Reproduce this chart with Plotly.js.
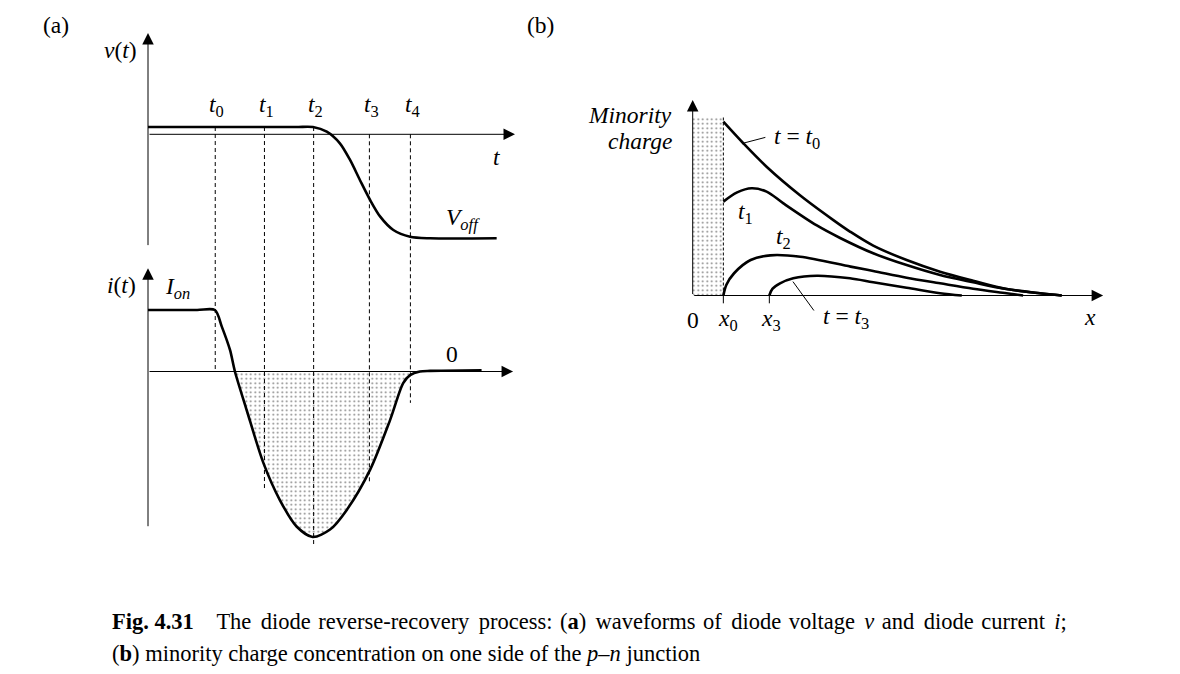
<!DOCTYPE html>
<html><head><meta charset="utf-8">
<script src="https://cdn.plot.ly/plotly-3.0.1.min.js"></script>
<style>html,body{margin:0;padding:0;background:#fff}</style>
</head><body><div id="chart" style="width:1180px;height:674px"></div>
<script>
// ================= DATA =================
// Panel (a): time marks t0..t4 (arbitrary time units)
const tMarks = [2.05, 3.55, 5.05, 6.75, 8.0];
const tMarkLabels = ['<i>t</i><sub>0</sub>', '<i>t</i><sub>1</sub>', '<i>t</i><sub>2</sub>', '<i>t</i><sub>3</sub>', '<i>t</i><sub>4</sub>'];
// diode voltage v(t)
const vTime = [0, 4.5, 5.03, 5.45, 5.85, 6.16, 6.46, 6.77, 7.08, 7.48, 7.99, 8.60, 10.63];
const vVolt = [0.7, 0.7, 0.7, 0.25, -0.87, -2.47, -4.39, -6.31, -7.92, -9.20, -9.85, -10.0, -10.0];
// diode current i(t)
const iTime = [0, 1.5, 2.04, 2.25, 2.50, 2.65, 3.01, 3.52, 4.02, 4.53, 5.02, 5.55, 6.06, 6.77, 7.38, 7.78, 7.99, 8.29, 8.60, 10.17];
const iCurr = [1.0, 1.0, 1.0, 0.73, 0.35, 0.0, -0.63, -1.49, -2.09, -2.52, -2.69, -2.57, -2.25, -1.60, -0.79, -0.19, -0.06, 0.0, 0.01, 0.02];
// guide lines: value where each guide leaves the v-plot and where it ends in the i-plot
const guideFromV = [0.7, 0.7, 0.7, 0, 0];
const guideToI = [0, -1.93, -2.82, -1.80, -0.51];
// axis extents (a)
const vAxisSpan = [-10.8, 9.73];
const tAxisEnd = 11.19;
const iAxisSpan = [-2.54, 1.68];
const iTAxisEnd = 11.13;

// Panel (b): minority charge profiles
const xMarks = [1.0, 2.5]; // x0, x3
const q0x = [1.0, 1.65, 2.41, 3.50, 4.59, 5.13, 5.89, 6.98, 8.07, 9.15, 10.24, 11.33, 12.04];
const q0y = [10.0, 8.76, 7.41, 5.77, 4.34, 3.68, 2.87, 2.04, 1.37, 0.85, 0.37, 0.13, 0];
const q1x = [1.0, 1.45, 1.92, 2.41, 2.96, 4.05, 4.81, 5.89, 6.98, 8.07, 9.15, 10.24, 11.33, 12.04];
const q1y = [5.40, 5.93, 6.17, 5.98, 5.30, 4.03, 3.31, 2.43, 1.75, 1.18, 0.76, 0.37, 0.13, 0];
const q2x = [1.0, 1.10, 1.35, 1.89, 2.53, 3.51, 5.15, 5.89, 6.98, 8.07, 9.15, 10.24, 10.78];
const q2y = [0, 0.62, 1.28, 2.04, 2.31, 2.23, 1.66, 1.41, 1.02, 0.70, 0.39, 0.13, 0];
const q3x = [2.5, 2.6, 2.85, 3.28, 4.05, 5.13, 5.89, 6.98, 8.07, 8.78];
const q3y = [0, 0.38, 0.70, 0.99, 1.14, 0.99, 0.76, 0.45, 0.13, 0];
const storedTop = 10.25;   // height of the stored-charge (dotted) block
const qAxisTop = 11.25;
const xAxisEnd = 13.39;

// ================= GEOMETRY (pixels) =================
const W = 1180, H = 674;
const GA = {p0: 100, p1: 540, o: 148, s: 32.8};      // panel a time axis
const GV = {p0: 25, p1: 255, o: 134.3, s: 10.4};     // voltage
const GI = {p0: 255, p1: 560, o: 371.5, s: 61.5};    // current
const GBX = {p0: 660, p1: 1120, o: 692.7, s: 30.65}; // panel b x
const GBY = {p0: 90, p1: 345, o: 295.5, s: 17.38};   // panel b charge
function xAx(g) { return {domain: [g.p0 / W, g.p1 / W], range: [(g.p0 - g.o) / g.s, (g.p1 - g.o) / g.s], visible: false, fixedrange: true}; }
function yAx(g) { return {domain: [1 - g.p1 / H, 1 - g.p0 / H], range: [(g.o - g.p1) / g.s, (g.o - g.p0) / g.s], visible: false, fixedrange: true}; }
function toPaperY(g, v) { return 1 - (g.o - v * g.s) / H; }

const SERIF = '"Liberation Serif", "Times New Roman", serif';
const BLK = '#000';
const CURVE = {color: BLK, width: 2.6, shape: 'spline', smoothing: 0.8};
const DOTS = {shape: '.', size: 4.5, solidity: 0.14, fgcolor: '#000', bgcolor: 'rgba(0,0,0,0)', fillmode: 'overlay'};

const traces = [];
// current fill (negative lobe)
const negT = [], negI = [];
iTime.forEach((t, k) => { if (iCurr[k] <= 0) { negT.push(t); negI.push(iCurr[k]); } });
traces.push({x: negT, y: negI, xaxis: 'x', yaxis: 'y2', mode: 'lines', line: {width: 0, shape: 'spline', smoothing: 0.8}, fill: 'tozeroy', fillcolor: 'rgba(0,0,0,0)', fillpattern: DOTS, hoverinfo: 'skip'});
// stored charge block panel b
traces.push({x: [0, xMarks[0], xMarks[0], 0, 0], y: [0, 0, storedTop, storedTop, 0], xaxis: 'x2', yaxis: 'y3', mode: 'lines', line: {width: 0}, fill: 'toself', fillcolor: 'rgba(0,0,0,0)', fillpattern: DOTS, hoverinfo: 'skip'});
// curves
traces.push({x: vTime, y: vVolt, xaxis: 'x', yaxis: 'y', mode: 'lines', line: CURVE});
traces.push({x: iTime, y: iCurr, xaxis: 'x', yaxis: 'y2', mode: 'lines', line: CURVE});
[[q0x, q0y], [q1x, q1y], [q2x, q2y], [q3x, q3y]].forEach(([xs, ys]) => {
  traces.push({x: xs, y: ys, xaxis: 'x2', yaxis: 'y3', mode: 'lines', line: {color: BLK, width: 2.6, shape: 'spline', smoothing: 0.9}});
});

// ================= SHAPES =================
const shapes = [];
tMarks.forEach((t, k) => {
  shapes.push({type: 'line', xref: 'x', yref: 'paper', x0: t, x1: t, y0: toPaperY(GV, guideFromV[k]), y1: toPaperY(GI, guideToI[k]), line: {color: BLK, width: 1, dash: '4px,3px'}});
});
shapes.push({type: 'line', xref: 'x2', yref: 'y3', x0: xMarks[0], x1: xMarks[0], y0: 0, y1: storedTop, line: {color: BLK, width: 1, dash: '3px,2px'}});
shapes.push({type: 'line', xref: 'x2', yref: 'y3', x0: xMarks[1], x1: xMarks[1], y0: 0, y1: -0.45, line: {color: BLK, width: 1}});
shapes.push({type: 'line', xref: 'x2', yref: 'y3', x0: xMarks[0], x1: xMarks[0], y0: 0, y1: -0.45, line: {color: BLK, width: 1}});

// ================= ANNOTATIONS =================
const ann = [];
function arrow(xr, yr, x0, y0, x1, y1) {
  ann.push({xref: xr, yref: yr, axref: xr, ayref: yr, x: x1, y: y1, ax: x0, ay: y0, text: '', showarrow: true, arrowhead: 2, arrowsize: 2.3, arrowwidth: 1, arrowcolor: BLK, standoff: 0});
}
arrow('x', 'y', 0, vAxisSpan[0], 0, vAxisSpan[1]);
arrow('x', 'y', 0, 0, tAxisEnd, 0);
arrow('x', 'y2', 0, iAxisSpan[0], 0, iAxisSpan[1]);
arrow('x', 'y2', 0, 0, iTAxisEnd, 0);
arrow('x2', 'y3', 0, 0, 0, qAxisTop);
arrow('x2', 'y3', 0, 0, xAxisEnd, 0);
// leader lines (panel b)
ann.push({xref: 'x2', yref: 'y3', axref: 'x2', ayref: 'y3', x: 1.64, y: 8.76, ax: 2.42, ay: 9.12, text: '', showarrow: true, arrowhead: 0, arrowwidth: 1, arrowcolor: BLK});
ann.push({xref: 'x2', yref: 'y3', axref: 'x2', ayref: 'y3', x: 3.27, y: 0.80, ax: 3.99, ay: -0.95, text: '', showarrow: true, arrowhead: 0, arrowwidth: 1, arrowcolor: BLK});

const FS = 23.5;
function label(xr, yr, x, y, text, opts) {
  ann.push(Object.assign({xref: xr, yref: yr, x: x, y: y, text: text, showarrow: false, xanchor: 'center', yanchor: 'middle', font: {family: SERIF, size: FS, color: BLK}}, opts || {}));
}
label('paper', 'paper', 56 / W, 1 - 25 / H, '(a)');
label('paper', 'paper', 540 / W, 1 - 25 / H, '(b)');
label('x', 'y', -0.85, 8.1, '<i>v</i>(<i>t</i>)');
tMarks.forEach((t, k) => label('x', 'y', t + 0.05, 2.75, tMarkLabels[k]));
label('x', 'y', 10.64, -2.15, '<i>t</i>');
label('x', 'y', 9.6, -8.1, '<i>V</i><sub><i>off</i></sub>');
label('x', 'y2', -0.8, 1.41, '<i>i</i>(<i>t</i>)');
label('x', 'y2', 0.9, 1.36, '<i>I</i><sub><i>on</i></sub>');
label('x', 'y2', 9.27, 0.28, '0');
label('x2', 'y3', -0.6, 10.38, '<i>Minority</i>', {xanchor: 'right'});
label('x2', 'y3', -0.6, 8.88, '<i>charge</i>', {xanchor: 'right'});
label('x2', 'y3', 2.58, 9.06, '<i>t</i> = <i>t</i><sub>0</sub>', {xanchor: 'left'});
label('x2', 'y3', 1.71, 4.75, '<i>t</i><sub>1</sub>');
label('x2', 'y3', 2.95, 3.31, '<i>t</i><sub>2</sub>');
label('x2', 'y3', 4.2, -1.29, '<i>t</i> = <i>t</i><sub>3</sub>', {xanchor: 'left'});
label('x2', 'y3', 0, -1.41, '0');
label('x2', 'y3', xMarks[0] + 0.15, -1.41, '<i>x</i><sub>0</sub>');
label('x2', 'y3', xMarks[1] + 0.06, -1.41, '<i>x</i><sub>3</sub>');
label('x2', 'y3', 12.97, -1.24, '<i>x</i>');
// caption (line 1 is justified in the reference: slightly wider word spacing)
const capWords = ['The', 'diode', 'reverse-recovery', 'process:', '(<b>a</b>)', 'waveforms', 'of', 'diode', 'voltage', '<i>v</i>', 'and', 'diode', 'current', '<i>i</i>;'];
const cap1 = '<b>Fig. 4.31</b>&#160;&#160;&#160;&#160;' + capWords.map((w, k) => (k === 0 ? '' : (k % 2 ? ' \u200A\u200A' : ' \u200A')) + w).join('');
const cap2 = '(<b>b</b>) minority charge concentration on one side of the <i>p</i>–<i>n</i> junction';
label('paper', 'paper', 110 / W, 1 - 621 / H, cap1, {xanchor: 'left', font: {family: SERIF, size: 22.5, color: BLK}});
label('paper', 'paper', 110 / W, 1 - 653 / H, cap2, {xanchor: 'left', font: {family: SERIF, size: 22.5, color: BLK}});

const layout = {
  width: W, height: H, margin: {l: 0, r: 0, t: 0, b: 0},
  paper_bgcolor: '#fff', plot_bgcolor: 'rgba(0,0,0,0)', showlegend: false,
  xaxis: Object.assign(xAx(GA), {anchor: 'y'}),
  yaxis: Object.assign(yAx(GV), {anchor: 'x'}),
  yaxis2: Object.assign(yAx(GI), {anchor: 'x'}),
  xaxis2: Object.assign(xAx(GBX), {anchor: 'y3'}),
  yaxis3: Object.assign(yAx(GBY), {anchor: 'x2'}),
  shapes: shapes, annotations: ann, hovermode: false
};
Plotly.newPlot('chart', traces, layout, {staticPlot: true, displayModeBar: false});
</script></body></html>
